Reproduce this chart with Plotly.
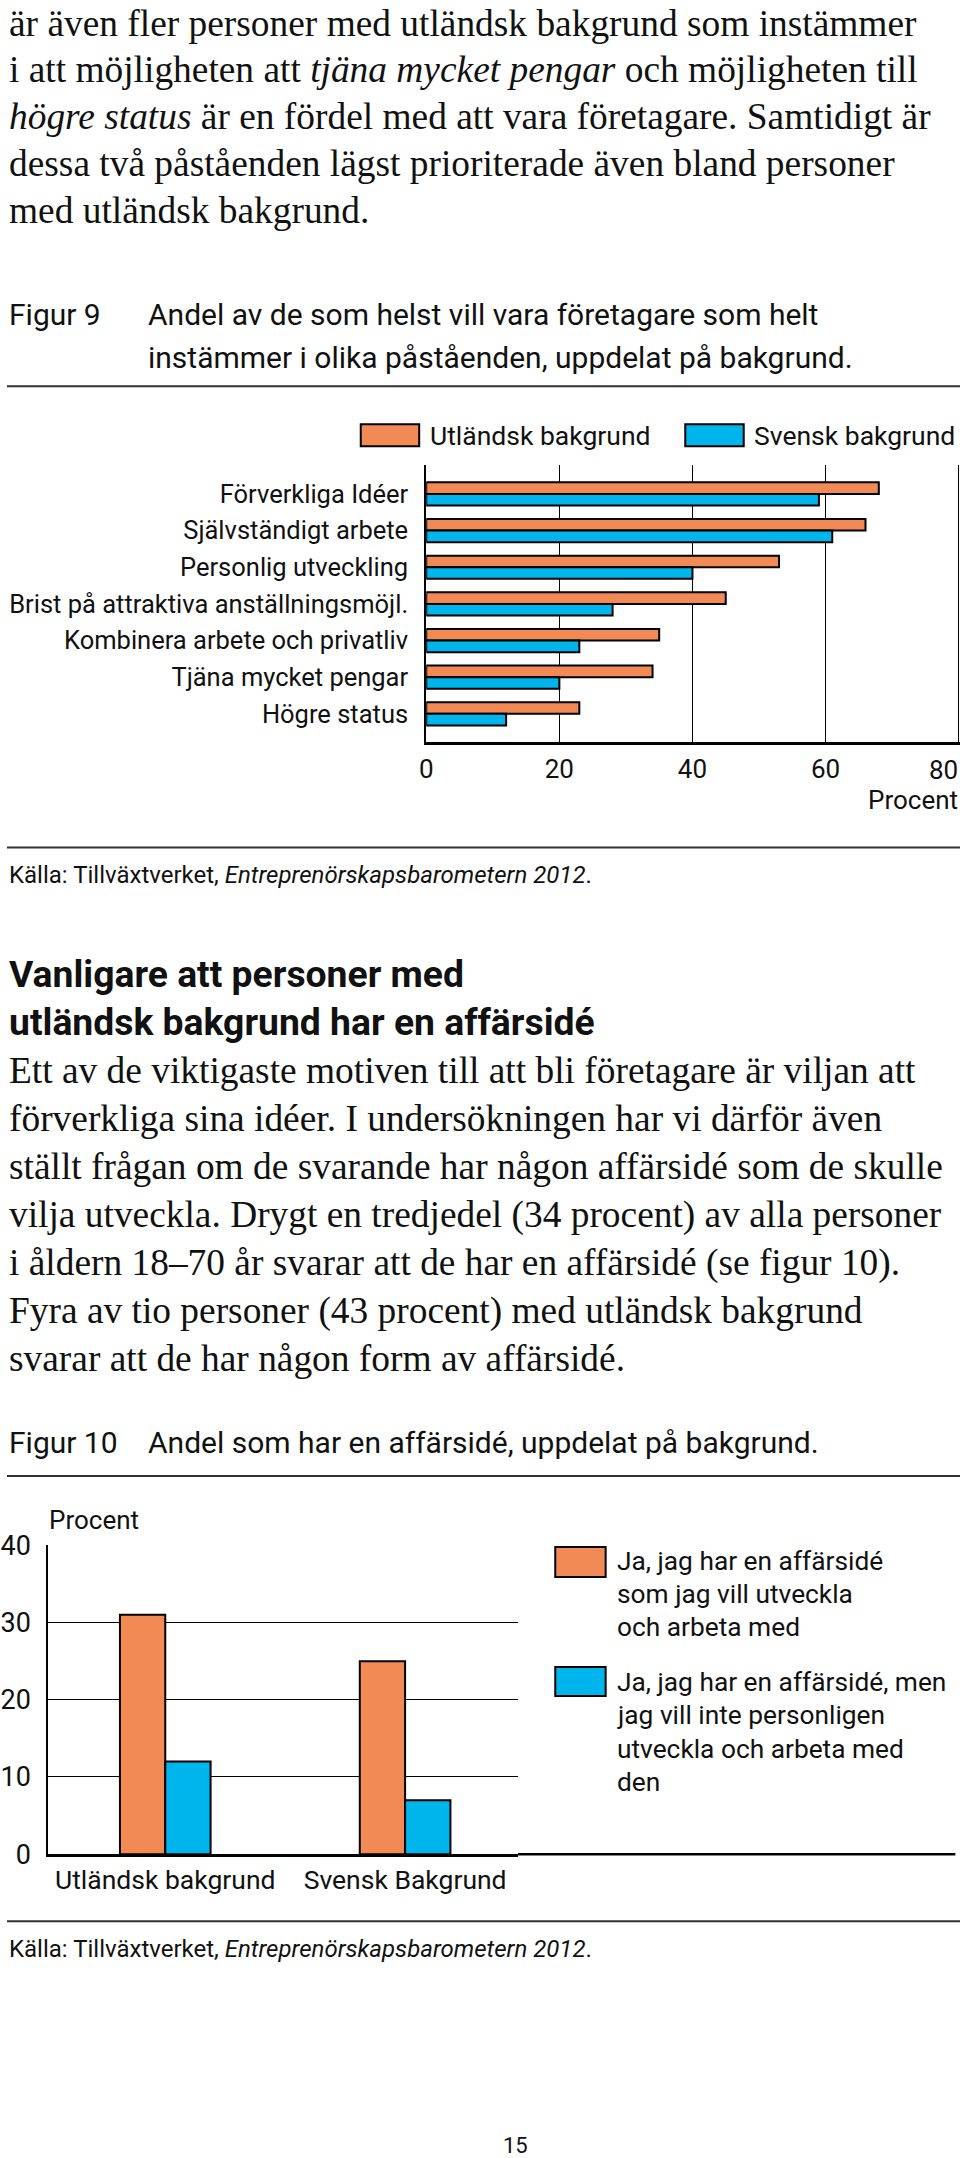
import plotly.graph_objects as go

# ---------------- data ----------------
fig9_categories = [
    "Förverkliga Idéer",
    "Självständigt arbete",
    "Personlig utveckling",
    "Brist på attraktiva anställningsmöjl.",
    "Kombinera arbete och privatliv",
    "Tjäna mycket pengar",
    "Högre status",
]
fig9_utlandsk = [68, 66, 53, 45, 35, 34, 23]
fig9_svensk = [59, 61, 40, 28, 23, 20, 12]
fig9_ticks = [0, 20, 40, 60, 80]
fig9_series = ["Utländsk bakgrund", "Svensk bakgrund"]

fig10_categories = ["Utländsk bakgrund", "Svensk Bakgrund"]
fig10_vill = [31, 25]
fig10_vill_inte = [12, 7]
fig10_ticks = [0, 10, 20, 30, 40]
fig10_legend1 = ["Ja, jag har en affärsidé", "som jag vill utveckla", "och arbeta med"]
fig10_legend2 = ["Ja, jag har en affärsidé, men", "jag vill inte personligen",
                 "utveckla och arbeta med", "den"]

top_lines = [
    "är även fler personer med utländsk bakgrund som instämmer",
    "i att möjligheten att <i>tjäna mycket pengar</i> och möjligheten till",
    "<i>högre status</i> är en fördel med att vara företagare. Samtidigt är",
    "dessa två påståenden lägst prioriterade även bland personer",
    "med utländsk bakgrund.",
]
heading_lines = ["Vanligare att personer med", "utländsk bakgrund har en affärsidé"]
body_lines = [
    "Ett av de viktigaste motiven till att bli företagare är viljan att",
    "förverkliga sina idéer. I undersökningen har vi därför även",
    "ställt frågan om de svarande har någon affärsidé som de skulle",
    "vilja utveckla. Drygt en tredjedel (34 procent) av alla personer",
    "i åldern 18–70 år svarar att de har en affärsidé (se figur 10).",
    "Fyra av tio personer (43 procent) med utländsk bakgrund",
    "svarar att de har någon form av affärsidé.",
]
source_text = "Källa: Tillväxtverket, <i>Entreprenörskapsbarometern 2012</i>."

# ---------------- style ----------------
W, H = 960, 2158
ORANGE = "#F28A55"
BLUE = "#00B4EC"
SERIF = "Liberation Serif"
SANS = "Roboto"
INK = "#111111"


def px(x):
    # page pixel (from left) -> paper fraction, with a small horizontal calibration
    xx = (x - 7) / 0.985
    return min(max(xx / W, 0.0), 1.0)


def py(y):
    # page pixel (from top) -> paper fraction, with a small vertical calibration
    yy = (y - 14) / 0.985
    return 1 - yy / H


fig = go.Figure()

# ---------------- Figure 9 bars ----------------
bw9 = 0.316
fig.add_trace(go.Bar(
    y=fig9_categories, x=fig9_utlandsk, orientation="h", name=fig9_series[0],
    marker=dict(color=ORANGE, line=dict(color="black", width=2)),
    width=bw9, offset=-bw9, xaxis="x", yaxis="y", showlegend=False,
))
fig.add_trace(go.Bar(
    y=fig9_categories, x=fig9_svensk, orientation="h", name=fig9_series[1],
    marker=dict(color=BLUE, line=dict(color="black", width=2)),
    width=bw9, offset=0, xaxis="x", yaxis="y", showlegend=False,
))

# ---------------- Figure 10 bars ----------------
bw10 = 0.189
fig.add_trace(go.Bar(
    x=fig10_categories, y=fig10_vill, name=" ".join(fig10_legend1),
    marker=dict(color=ORANGE, line=dict(color="black", width=2)),
    width=bw10, offset=-bw10, xaxis="x2", yaxis="y2", showlegend=False,
))
fig.add_trace(go.Bar(
    x=fig10_categories, y=fig10_vill_inte, name=" ".join(fig10_legend2),
    marker=dict(color=BLUE, line=dict(color="black", width=2)),
    width=bw10, offset=0, xaxis="x2", yaxis="y2", showlegend=False,
))

fig9_ticktext = [str(t) if t < fig9_ticks[-1] else "" for t in fig9_ticks]

fig.update_layout(
    width=W, height=H,
    margin=dict(l=0, r=0, t=0, b=0),
    paper_bgcolor="white", plot_bgcolor="white",
    barmode="overlay",
    font=dict(family=SANS, color=INK),
    xaxis=dict(
        domain=[px(423), 1.0], anchor="y", range=[0, 80.2],
        tickvals=fig9_ticks, ticktext=fig9_ticktext,
        showgrid=True, gridcolor="black", gridwidth=1,
        zeroline=False, showline=True, linecolor="black", linewidth=2.5,
        ticks="", ticklabelstandoff=2,
        tickfont=dict(family=SANS, size=26, color=INK),
    ),
    yaxis=dict(
        domain=[py(741), py(464)], anchor="x",
        type="category", categoryorder="array", categoryarray=fig9_categories,
        range=[6.78, -0.78],
        showgrid=False, zeroline=False, showline=True, linecolor="black", linewidth=2,
        ticks="", ticklabelstandoff=11,
        tickfont=dict(family=SANS, size=25.5, color=INK),
    ),
    xaxis2=dict(
        domain=[px(48), px(514)], anchor="y2",
        type="category", categoryorder="array", categoryarray=fig10_categories,
        range=[-0.4876, 1.4706],
        showgrid=False, zeroline=False, showline=True, linecolor="black", linewidth=2.5,
        ticks="", ticklabelstandoff=0,
        tickfont=dict(family=SANS, size=26.5, color=INK),
    ),
    yaxis2=dict(
        domain=[py(1852), py(1543)], anchor="x2", range=[0, 40.05],
        tickvals=fig10_ticks, ticktext=[str(t) for t in fig10_ticks],
        showgrid=True, gridcolor="black", gridwidth=1,
        zeroline=False, showline=True, linecolor="black", linewidth=2,
        ticks="", ticklabelstandoff=10,
        tickfont=dict(family=SANS, size=27, color=INK),
    ),
)

annotations = []
shapes = []


def text(x, y, s, size, family=SANS, anchor="left", yanchor="middle"):
    annotations.append(dict(
        x=px(x), y=py(y),
        xref="paper", yref="paper", text=s, showarrow=False,
        xanchor=anchor, yanchor=yanchor,
        font=dict(family=family, size=size, color=INK),
    ))


def hline(x0, x1, y, width=2, color="#333333"):
    shapes.append(dict(type="line", xref="paper", yref="paper",
                       x0=px(x0), x1=px(x1), y0=py(y), y1=py(y),
                       line=dict(color=color, width=width)))


def box(x0, x1, y0, y1, color):
    shapes.append(dict(type="rect", xref="paper", yref="paper",
                       x0=px(x0), x1=px(x1), y0=py(y1), y1=py(y0),
                       fillcolor=color, line=dict(color="black", width=2)))


# top body text
for i, line in enumerate(top_lines):
    text(0, 22 + i * 46.8, line, 37.4, SERIF)

# Figure 9 caption
text(0, 313, "Figur 9", 30)
text(145, 313, "Andel av de som helst vill vara företagare som helt", 30)
text(145, 356, "instämmer i olika påståenden, uppdelat på bakgrund.", 30)
hline(0, 960, 385)

# Figure 9 legend
box(358, 416, 423, 445, ORANGE)
text(425, 434, fig9_series[0], 26.5)
box(680, 738, 423, 445, BLUE)
text(746, 434, fig9_series[1], 26.5)

# Figure 9: last tick label and axis title at the right edge
text(960, 769, str(fig9_ticks[-1]), 26, anchor="right")
text(960, 798, "Procent", 26, anchor="right")

# source 1
hline(0, 960, 846)
text(0, 873, source_text, 24)

# heading and body
text(0, 972, "<b>" + heading_lines[0] + "</b>", 37.3)
text(0, 1020, "<b>" + heading_lines[1] + "</b>", 37.3)
for i, line in enumerate(body_lines):
    text(0, 1069 + i * 48, line, 37.4, SERIF)

# Figure 10 caption
text(0, 1441, "Figur 10", 30)
text(145, 1441, "Andel som har en affärsidé, uppdelat på bakgrund.", 30)
hline(0, 960, 1474)

# Figure 10 axis title
text(47, 1518, "Procent", 26)

# Figure 10 baseline extension
hline(514, 948, 1852, width=2.5, color="black")

# Figure 10 legend
box(551, 601, 1545, 1575, ORANGE)
for i, line in enumerate(fig10_legend1):
    text(610, 1559 + i * 33, line, 26.3)
box(551, 601, 1665, 1694, BLUE)
for i, line in enumerate(fig10_legend2):
    text(610, 1680 + i * 33.2, line, 26.3)

# source 2
hline(0, 960, 1919)
text(0, 1947, source_text, 24)

# page number
text(512, 2143, "15", 22, anchor="center")

fig.update_layout(annotations=annotations, shapes=shapes)
fig.write_html(
    "out.html",
    config={"displayModeBar": False},
    post_script="document.body.style.margin='0';document.body.style.overflow='hidden';",
)
